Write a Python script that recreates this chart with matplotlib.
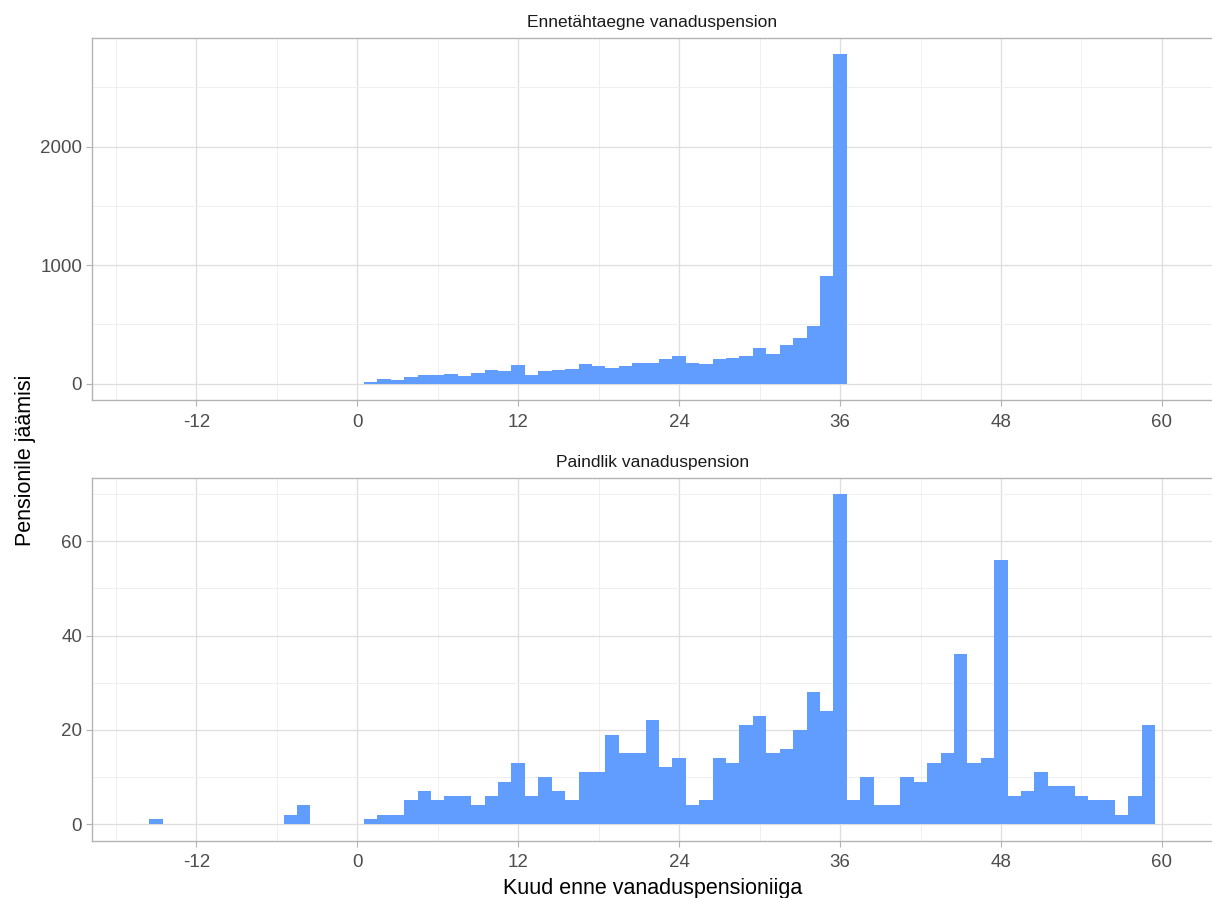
import numpy as np
import matplotlib
matplotlib.use('Agg')
import matplotlib.pyplot as plt
from matplotlib.ticker import MultipleLocator

plt.rcParams['font.family'] = ['Liberation Sans', 'DejaVu Sans']

# ennetähtaegne vanaduspension, kuud 1..36
early_months = list(range(1, 37))
early_counts = [15, 39, 34, 56, 70, 78, 81, 67, 87, 112, 106, 157,
                73, 109, 120, 126, 165, 151, 137, 148, 179, 171, 207, 230,
                171, 165, 210, 221, 232, 300, 255, 328, 387, 490, 910, 2780]

# paindlik vanaduspension
flex_months = [-15, -5, -4] + list(range(1, 60))
flex_counts = [1, 2, 4,
               1, 2, 2, 5, 7, 5, 6, 6, 4, 6, 9, 13,
               6, 10, 7, 5, 11, 11, 19, 15, 15, 22, 12, 14,
               4, 5, 14, 13, 21, 23, 15, 16, 20, 28, 24, 70,
               5, 10, 4, 4, 10, 9, 13, 15, 36, 13, 14, 56,
               6, 7, 11, 8, 8, 6, 5, 5, 2, 6, 21]

titles = ['Ennetähtaegne vanaduspension', 'Paindlik vanaduspension']
x_ticks = [-12, 0, 12, 24, 36, 48, 60]

bar_col = '#619CFF'
border_col = '#B3B3B3'

fig = plt.figure(figsize=(12.12, 8.98), dpi=100)
ax1 = fig.add_axes([0.0757, 0.5543, 0.925, 0.4037])
ax2 = fig.add_axes([0.0757, 0.0640, 0.925, 0.4040])

panels = [(ax1, early_months, early_counts, 1000, 2780),
          (ax2, flex_months, flex_counts, 20, 70)]

for i, (ax, m, c, step, ymax) in enumerate(panels):
    ax.bar(m, c, width=1.0, color=bar_col, linewidth=0, zorder=2)
    ax.set_xlim(-19.8, 63.8)
    ax.set_ylim(-0.05 * ymax, 1.05 * ymax)
    ax.set_xticks(x_ticks)
    ax.set_xticklabels([str(t) for t in x_ticks])
    ax.set_xticks([-18, -6, 6, 18, 30, 42, 54], minor=True)
    ax.yaxis.set_major_locator(MultipleLocator(step))
    ax.yaxis.set_minor_locator(MultipleLocator(step / 2))
    ax.grid(which='major', color='#DEDEDE', linewidth=0.9, zorder=0)
    ax.grid(which='minor', color='#EFEFEF', linewidth=0.7, zorder=0)
    ax.set_axisbelow(True)
    for s in ax.spines.values():
        s.set_color(border_col)
        s.set_linewidth(1.0)
    ax.spines['right'].set_visible(False)
    ax.tick_params(which='major', length=4, width=0.8, color=border_col,
                   labelcolor='#4D4D4D', labelsize=13.5, pad=3)
    ax.tick_params(axis='x', which='major', pad=6)
    ax.tick_params(which='minor', length=0)
    ax.set_title(titles[i], fontsize=12.5, color='#1A1A1A', pad=8)

ax2.set_xlabel('Kuud enne vanaduspensioniiga', fontsize=15.5, labelpad=5)
fig.text(0.021, 0.487, 'Pensionile jäämisi', rotation=90, fontsize=15.5,
         ha='center', va='center')

fig.savefig('out.png', dpi=100)
